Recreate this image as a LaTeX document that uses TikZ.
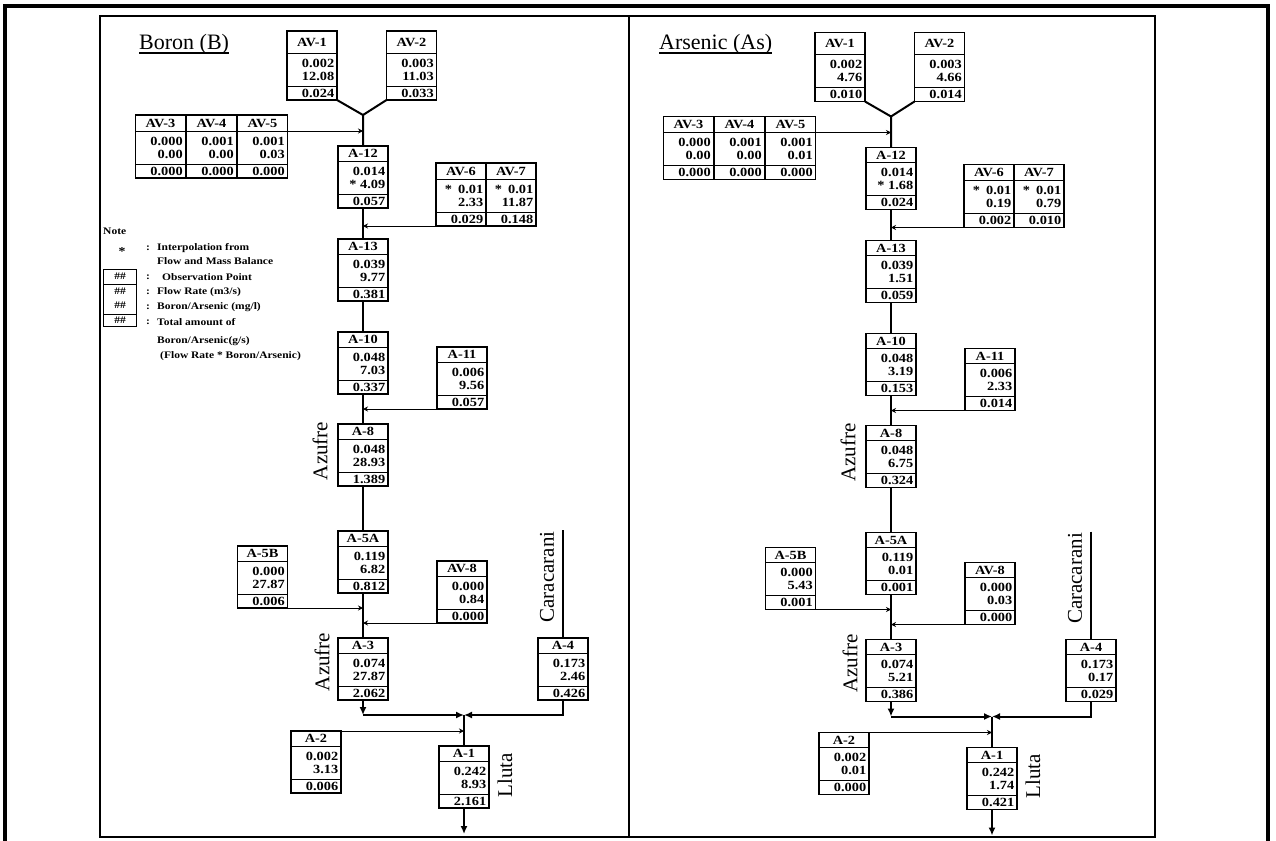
\documentclass[tikz,border=0pt]{standalone}
\usepackage{fontspec}
\setmainfont{Liberation Serif}
\newfontfamily\bxfont{Liberation Serif}[FakeStretch=1.15]
\usetikzlibrary{calc,arrows.meta}

\tikzset{
  obx/.style={draw, line width=1.4pt, minimum width=50pt, inner sep=0pt, outer sep=0pt, rectangle},
  sepline/.style={line width=0.8pt},
  hd/.style={font=\bxfont\bfseries\fontsize{12.5}{13}\selectfont, inner sep=0pt},
  vl/.style={font=\bxfont\bfseries\fontsize{12.5}{13}\selectfont, inner sep=0pt, anchor=east},
  lg/.style={font=\bxfont\bfseries\fontsize{10}{11}\selectfont, inner sep=0pt},
  spine/.style={line width=2pt},
  ar/.style={line width=0.9pt, -{Stealth[length=5pt,width=5pt]}},
  fa/.style={-{Latex[length=8pt,width=7pt]}},
  river/.style={font=\fontsize{21}{21}\selectfont, rotate=90, inner sep=0pt},
  ttl/.style={font=\fontsize{22}{22}\selectfont, inner sep=0pt},
}

% \obox[header height]{name}{center x}{top y}{label}{v1}{v2}{v3}
\newcommand\obox[8][15]{%
  \node[obx, minimum height=#1+47, anchor=north] (#2) at (#3,#4) {};
  \draw[sepline] ($(#2.north west)+(0,#1)$) -- ($(#2.north east)+(0,#1)$);
  \draw[sepline] ($(#2.north west)+(0,#1+33)$) -- ($(#2.north east)+(0,#1+33)$);
  \node[hd] at ($(#2.north)+(0,#1/2)$) {#5};
  \node[vl] at ($(#2.north east)+(-2.5,#1+10)$) {#6};
  \node[vl] at ($(#2.north east)+(-2.5,#1+23)$) {#7};
  \node[vl] at ($(#2.north east)+(-2.5,#1+40)$) {#8};
}

\newcommand\wires[1]{%
  \coordinate (#1Y) at (363,115);
  \draw[spine] (#1AV1.south east) -- (#1Y) -- (#1A12.north);
  \draw[spine] (#1AV2.south west) -- (#1Y);
  \draw[ar] ($(#1AV5.north east)+(0,16)$) coordinate (#1p1) -- (#1p1 -| #1Y);
  \draw[spine] (#1A12.south) -- (#1A13.north);
  \draw[ar] (#1AV6.south west) -- (#1AV6.south west -| #1A12.south);
  \draw[spine] (#1A13.south) -- (#1A10.north);
  \draw[spine] (#1A10.south) -- (#1A8.north);
  \draw[ar] (#1A11.south west) -- (#1A11.south west -| #1A10.south);
  \draw[spine] (#1A8.south) -- (#1A5A.north);
  \draw[spine] (#1A5A.south) -- (#1A3.north);
  \draw[ar] (#1A5B.south east) -- (#1A5B.south east -| #1A5A.south);
  \draw[ar] (#1AV8.south west) -- (#1AV8.south west -| #1A5A.south);
  \path (#1A1.north) ++(0,-31) coordinate (#1J);
  \coordinate (#1L) at (#1A3.south |- #1J);
  \draw[spine, fa] (#1A3.south) -- (#1L);
  \draw[spine, fa] (#1L) -- (#1J);
  \draw[spine, fa] (#1A4.south) |- (#1J);
  \draw[spine] (#1J) -- (#1A1.north);
  \draw[ar] (#1A2.north east) -- (#1A2.north east -| #1A1.north);
  \path (#1A1.south) ++(0,26) coordinate (#1out);
  \draw[spine, fa] (#1A1.south) -- (#1out);
  \path (#1A4.north) ++(0,-108) coordinate (#1C);
  \draw[spine] (#1C) -- (#1A4.north);
  \node[river] (#1az1) at (320,451) {Azufre};
  \node[river] (#1az2) at (322,662) {Azufre};
  \node[river] (#1car) at (547,577) {Caracarani};
  \node[river] (#1llu) at (505,775) {Lluta};
}

\begin{document}
\begin{tikzpicture}[x=1pt, y=-1pt]
\useasboundingbox (0,0) rectangle (1276,840);
\fill[white] (0,0) rectangle (1276,840);

% frames
\draw[line width=4pt] (5,845) -- (5,6) -- (1268,6) -- (1268,845);
\draw[line width=2pt] (100,16) rectangle (1155,837);
\draw[line width=2pt] (629,16) -- (629,837);

% titles
\node[ttl, anchor=base west] (tB) at (139,50) {Boron (B)};
\draw[line width=1.3pt] ($(tB.base west)+(0,3)$) -- ($(tB.base east)+(0,3)$);
\node[ttl, anchor=base west] (tAs) at (659,50) {Arsenic (As)};
\draw[line width=1.3pt] ($(tAs.base west)+(0,3)$) -- ($(tAs.base east)+(0,3)$);

% ---------------- Boron panel ----------------
\obox[22]{BAV1}{312}{31}{AV-1}{0.002}{12.08}{0.024}
\obox[22]{BAV2}{411.5}{31}{AV-2}{0.003}{11.03}{0.033}
\obox[16]{BAV3}{160.5}{115}{AV-3}{0.000}{0.00}{0.000}
\obox[16]{BAV4}{211.5}{115}{AV-4}{0.001}{0.00}{0.000}
\obox[16]{BAV5}{262.5}{115}{AV-5}{0.001}{0.03}{0.000}
\obox{BA12}{363}{146}{A-12}{0.014}{* 4.09}{0.057}
\obox[16]{BAV6}{461}{163}{AV-6}{*\hspace{6pt}0.01}{2.33}{0.029}
\obox[16]{BAV7}{511}{163}{AV-7}{*\hspace{6pt}0.01}{11.87}{0.148}
\obox{BA13}{363}{239}{A-13}{0.039}{9.77}{0.381}
\obox{BA10}{363}{332}{A-10}{0.048}{7.03}{0.337}
\obox{BA11}{462}{347}{A-11}{0.006}{9.56}{0.057}
\obox{BA8}{363}{424}{A-8}{0.048}{28.93}{1.389}
\obox{BA5A}{363}{531}{A-5A}{0.119}{6.82}{0.812}
\obox{BA5B}{262.5}{546}{A-5B}{0.000}{27.87}{0.006}
\obox{BAV8}{462}{561}{AV-8}{0.000}{0.84}{0.000}
\obox{BA3}{363}{638}{A-3}{0.074}{27.87}{2.062}
\obox{BA4}{563}{638}{A-4}{0.173}{2.46}{0.426}
\obox{BA2}{316}{731}{A-2}{0.002}{3.13}{0.006}
\obox{BA1}{464}{746}{A-1}{0.242}{8.93}{2.161}
\wires{B}

% legend
\node[lg, anchor=west] (note) at (103,231) {Note};
\node[lg, font=\bxfont\bfseries\fontsize{12}{12}\selectfont] (lstar) at (122,252) {*};
\node[lg] at (148,248) {:};
\node[lg, anchor=west] at (157,248) {Interpolation from};
\node[lg, anchor=west] at (157,261) {Flow and Mass Balance};
\node[draw, line width=1.2pt, minimum width=33pt, minimum height=57pt, inner sep=0pt, anchor=north west] (lbox) at (103,269) {};
\draw[sepline] ($(lbox.north west)+(0,15)$) -- ($(lbox.north east)+(0,15)$);
\draw[sepline] ($(lbox.north west)+(0,45)$) -- ($(lbox.north east)+(0,45)$);
\node[lg] at ($(lbox.north)+(0,7.5)$) {\#\#};
\node[lg] at ($(lbox.north)+(0,22)$) {\#\#};
\node[lg] at ($(lbox.north)+(0,36)$) {\#\#};
\node[lg] at ($(lbox.north)+(0,51)$) {\#\#};
\node[lg] at (148,277) {:};
\node[lg, anchor=west] at (162,277) {Observation Point};
\node[lg] at (148,292) {:};
\node[lg, anchor=west] at (157,292) {Flow Rate (m3/s)};
\node[lg] at (148,307) {:};
\node[lg, anchor=west] at (157,307) {Boron/Arsenic (mg/l)};
\node[lg] at (148,322) {:};
\node[lg, anchor=west] at (157,322) {Total amount of};
\node[lg, anchor=west] at (157,341) {Boron/Arsenic(g/s)};
\node[lg, anchor=west] at (160,356) {(Flow Rate * Boron/Arsenic)};

% ---------------- Arsenic panel ----------------
\begin{scope}[xshift=528pt, yshift=-1.5pt]
\obox[22]{SAV1}{312}{31}{AV-1}{0.002}{4.76}{0.010}
\obox[22]{SAV2}{411.5}{31}{AV-2}{0.003}{4.66}{0.014}
\obox[16]{SAV3}{160.5}{115}{AV-3}{0.000}{0.00}{0.000}
\obox[16]{SAV4}{211.5}{115}{AV-4}{0.001}{0.00}{0.000}
\obox[16]{SAV5}{262.5}{115}{AV-5}{0.001}{0.01}{0.000}
\obox{SA12}{363}{146}{A-12}{0.014}{* 1.68}{0.024}
\obox[16]{SAV6}{461}{163}{AV-6}{*\hspace{6pt}0.01}{0.19}{0.002}
\obox[16]{SAV7}{511}{163}{AV-7}{*\hspace{6pt}0.01}{0.79}{0.010}
\obox{SA13}{363}{239}{A-13}{0.039}{1.51}{0.059}
\obox{SA10}{363}{332}{A-10}{0.048}{3.19}{0.153}
\obox{SA11}{462}{347}{A-11}{0.006}{2.33}{0.014}
\obox{SA8}{363}{424}{A-8}{0.048}{6.75}{0.324}
\obox{SA5A}{363}{531}{A-5A}{0.119}{0.01}{0.001}
\obox{SA5B}{262.5}{546}{A-5B}{0.000}{5.43}{0.001}
\obox{SAV8}{462}{561}{AV-8}{0.000}{0.03}{0.000}
\obox{SA3}{363}{638}{A-3}{0.074}{5.21}{0.386}
\obox{SA4}{563}{638}{A-4}{0.173}{0.17}{0.029}
\obox{SA2}{316}{731}{A-2}{0.002}{0.01}{0.000}
\obox{SA1}{464}{746}{A-1}{0.242}{1.74}{0.421}
\wires{S}
\end{scope}
\end{tikzpicture}
\end{document}
